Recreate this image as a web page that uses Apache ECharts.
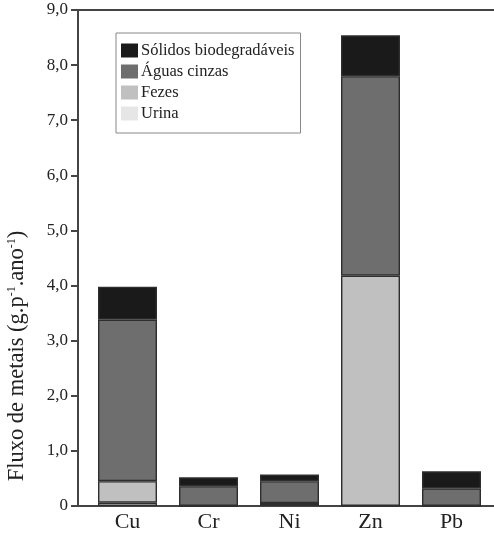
<!DOCTYPE html>
<html>
<head>
<meta charset="utf-8">
<script src="https://cdn.jsdelivr.net/npm/echarts@6/dist/echarts.min.js"></script>
<style>
html,body{margin:0;padding:0;background:#fff;}
#c{width:494px;height:535px;}
</style>
</head>
<body>
<div id="c"></div>
<script>
var categories = ['Cu', 'Cr', 'Ni', 'Zn', 'Pb'];
var urina   = [0.06, 0.00, 0.05, 0.00, 0.00];
var fezes   = [0.39, 0.00, 0.00, 4.18, 0.00];
var aguas   = [2.93, 0.36, 0.40, 3.62, 0.32];
var solidos = [0.60, 0.16, 0.12, 0.74, 0.31];
var yTickLabels = ['0', '1,0', '2,0', '3,0', '4,0', '5,0', '6,0', '7,0', '8,0', '9,0'];
var seriesNames = ['Urina', 'Fezes', 'Águas cinzas', 'Sólidos biodegradáveis'];
var legendOrder = ['Sólidos biodegradáveis', 'Águas cinzas', 'Fezes', 'Urina'];

var FONT = '"Liberation Serif", "Times New Roman", serif';
var colors = ['#e6e6e6', '#c0c0c0', '#6e6e6e', '#1a1a1a'];
var values = [urina, fezes, aguas, solidos];

var chart = echarts.init(document.getElementById('c'));
var series = values.map(function (arr, i) {
  return {
    name: seriesNames[i],
    type: 'bar',
    stack: 'total',
    xAxisIndex: 0,
    yAxisIndex: 0,
    barWidth: 59,
    data: arr,
    itemStyle: { color: colors[i], borderColor: '#2e2e2e', borderWidth: 1.4 },
    emphasis: { disabled: true }
  };
});

var axisLineStyle = { color: '#444', width: 2 };

chart.setOption({
  backgroundColor: '#ffffff',
  animation: false,
  grid: [
    { left: 87, right: 2, top: 10, bottom: 29 },
    { left: 78, right: 0, top: 10, bottom: 29 }
  ],
  legend: {
    data: legendOrder,
    orient: 'vertical',
    left: 116,
    top: 33,
    padding: [9, 6, 11, 5],
    itemWidth: 17,
    itemHeight: 14,
    itemGap: 4,
    borderColor: '#888',
    borderWidth: 1,
    backgroundColor: '#fff',
    icon: 'rect',
    itemStyle: { borderWidth: 0 },
    textStyle: { fontFamily: FONT, fontSize: 16.5, color: '#222', padding: [0, 0, 0, -2] }
  },
  xAxis: [
    {
      gridIndex: 0, type: 'category', data: categories,
      axisLine: { show: false }, axisTick: { show: false },
      axisLabel: { fontFamily: FONT, fontSize: 22, color: '#222', margin: 5 }
    },
    {
      gridIndex: 1, type: 'value', position: 'bottom', min: 0, max: 1,
      axisLine: { show: true, onZero: false, lineStyle: axisLineStyle },
      axisTick: { show: false }, axisLabel: { show: false }, splitLine: { show: false }
    },
    {
      gridIndex: 1, type: 'value', position: 'top', min: 0, max: 1,
      axisLine: { show: true, onZero: false, lineStyle: axisLineStyle },
      axisTick: { show: false }, axisLabel: { show: false }, splitLine: { show: false }
    }
  ],
  yAxis: [
    { gridIndex: 0, type: 'value', min: 0, max: 9, show: false },
    {
      gridIndex: 1, type: 'value', min: 0, max: 9, interval: 1,
      axisLine: { show: true, onZero: false, lineStyle: axisLineStyle },
      axisTick: { show: true, length: 7, lineStyle: axisLineStyle },
      axisLabel: {
        fontFamily: FONT, fontSize: 17, color: '#222', margin: 10,
        formatter: function (v) { return yTickLabels[Math.round(v)]; }
      },
      splitLine: { show: false }
    }
  ],
  graphic: [
    {
      type: 'text',
      x: 17, y: 356,
      rotation: Math.PI / 2,
      style: {
        text: '{a|Fluxo de metais (g.p}{s|-1}{a|.ano}{s|-1}{a|)}',
        align: 'center',
        verticalAlign: 'middle',
        fill: '#222',
        rich: {
          a: { fontFamily: FONT, fontSize: 22.5, fill: '#222', color: '#222' },
          s: { fontFamily: FONT, fontSize: 12, fill: '#222', color: '#222', verticalAlign: 'top', padding: [0, 0, 11, 0] }
        }
      }
    }
  ],
  series: series
});
</script>
</body>
</html>
